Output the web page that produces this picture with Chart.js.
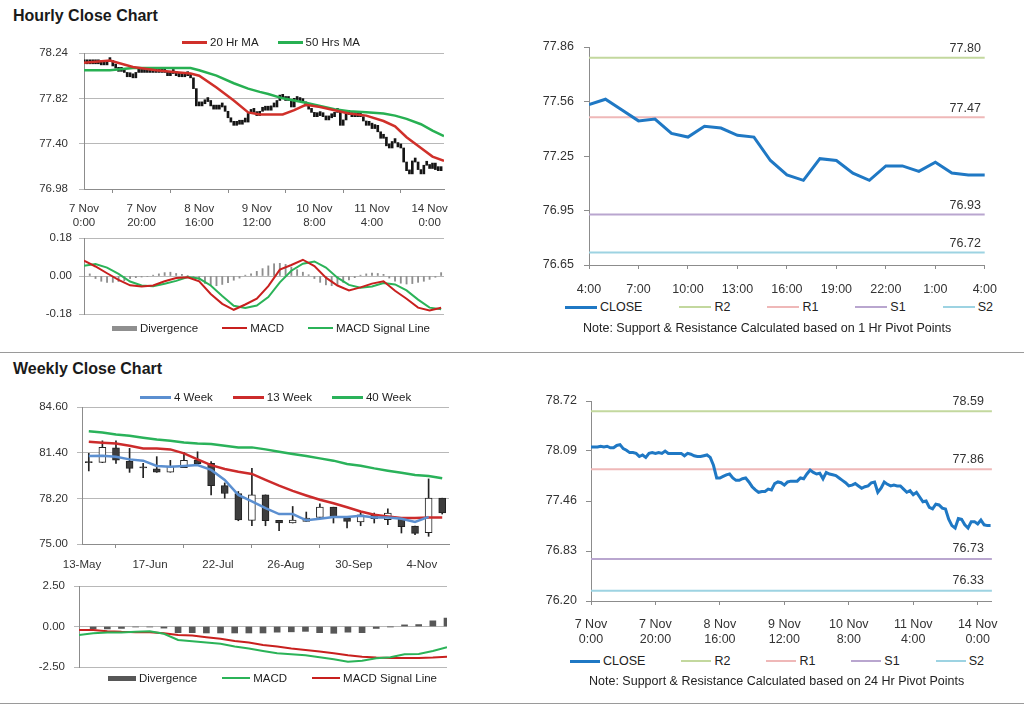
<!DOCTYPE html>
<html>
<head>
<meta charset="utf-8">
<script src="https://cdn.jsdelivr.net/npm/chart.js@4.4.1/dist/chart.umd.min.js"></script>
<style>
  body { margin: 0; width: 1024px; height: 706px; background: #fff; position: relative; overflow: hidden;
         font-family: "Liberation Sans", Arial, sans-serif; color: #222; }
  .box { position: absolute; }
  .title { position: absolute; left: 13px; font-weight: bold; font-size: 16px; line-height: 18px; color: #1a1a1a; }
  .rule { position: absolute; left: 0; width: 1024px; height: 1px; background: #9a9a9a; }
  .legend { position: absolute; display: flex; align-items: center; white-space: nowrap; color: #222; }
  .legend .item { display: flex; align-items: center; }
  .legend .sw { display: inline-block; margin-right: 3px; }
  .note { position: absolute; font-size: 12.5px; line-height: 16px; white-space: nowrap; color: #222; }
</style>
</head>
<body>
<div class="title" style="top:7px">Hourly Close Chart</div>
<div class="rule" style="top:352px"></div>
<div class="title" style="top:360px">Weekly Close Chart</div>
<div class="rule" style="top:703px"></div>

<script>
const FONT = '"Liberation Sans", Arial, sans-serif';

// ---- hourly data (7 Nov 0:00 -> 14 Nov 4:00, one value per hour) ----
const hourlyClose = [
  78.14, 78.14, 78.14, 78.15, 78.14, 78.15, 78.13, 78.13, 78.16, 78.17,
  78.12, 78.10, 78.07, 78.07, 78.06, 78.02, 78.04, 78.01, 78.06, 78.07,
  78.06, 78.07, 78.06, 78.09, 78.06, 78.06, 78.06, 78.06, 78.06, 78.03,
  78.06, 78.05, 78.03, 78.02, 78.02, 78.03, 78.04, 78.01, 77.91, 77.75,
  77.75, 77.77, 77.79, 77.80, 77.75, 77.72, 77.72, 77.74, 77.75, 77.70,
  77.64, 77.60, 77.57, 77.58, 77.58, 77.61, 77.60, 77.68, 77.70, 77.69,
  77.66, 77.70, 77.71, 77.71, 77.71, 77.75, 77.74, 77.80, 77.85, 77.82,
  77.80, 77.81, 77.74, 77.82, 77.80, 77.79, 77.78, 77.75, 77.72, 77.69,
  77.65, 77.66, 77.68, 77.65, 77.62, 77.64, 77.65, 77.69, 77.70, 77.57,
  77.62, 77.70, 77.67, 77.65, 77.66, 77.65, 77.65, 77.61, 77.57, 77.59,
  77.54, 77.57, 77.51, 77.45, 77.46, 77.38, 77.36, 77.42, 77.41, 77.37,
  77.36, 77.23, 77.15, 77.12, 77.24, 77.23, 77.16, 77.12, 77.20, 77.20,
  77.17, 77.22, 77.16, 77.15, 77.15
];
const hourTickLabels = [['7 Nov', '0:00'], ['7 Nov', '20:00'], ['8 Nov', '16:00'], ['9 Nov', '12:00'],
                        ['10 Nov', '8:00'], ['11 Nov', '4:00'], ['14 Nov', '0:00']];
const hourTickStep = 20;

const maHours = [0, 9, 17, 25, 33, 37, 40, 46, 52, 57, 61, 64, 69, 73, 77, 82, 87, 92, 98, 104, 108, 112, 117, 121, 125];
const ma20 = [78.15, 78.17, 78.11, 78.08, 78.06, 78.05, 78.03, 77.92, 77.80, 77.69, 77.67, 77.67, 77.67,
              77.71, 77.76, 77.74, 77.71, 77.68, 77.66, 77.61, 77.56, 77.46, 77.36, 77.28, 77.24];
const ma50 = [78.08, 78.08, 78.10, 78.10, 78.10, 78.10, 78.08, 78.03, 77.96, 77.91, 77.88, 77.86, 77.82,
              77.80, 77.78, 77.75, 77.72, 77.70, 77.69, 77.68, 77.66, 77.63, 77.58, 77.52, 77.47];

// hourly MACD, one value every 4 hours
const macdStep = 4;
const hourMacd = [0.073, 0.045, 0.013, -0.018, -0.044, -0.050, -0.045, -0.025, -0.010, -0.006, -0.025,
                  -0.085, -0.132, -0.160, -0.135, -0.107, -0.048, 0.030, 0.052, 0.077, 0.047, -0.008,
                  -0.045, -0.068, -0.054, -0.036, -0.025, -0.070, -0.108, -0.150, -0.163, -0.150];
const hourSignal = [0.049, 0.057, 0.040, 0.010, -0.026, -0.045, -0.048, -0.037, -0.023, -0.005, -0.012,
                    -0.045, -0.095, -0.141, -0.152, -0.140, -0.100, -0.030, 0.025, 0.058, 0.069, 0.040,
                    -0.008, -0.042, -0.056, -0.050, -0.033, -0.040, -0.068, -0.112, -0.150, -0.158];
// divergence, one value every 2 hours
const divStep = 2;
const hourDiv = [0.012, 0.010, -0.012, -0.025, -0.030, -0.030, -0.026, -0.022, -0.012, -0.008, -0.005,
                 -0.002, 0.004, 0.010, 0.016, 0.018, 0.012, 0.008, 0.002, -0.004, -0.018, -0.035,
                 -0.044, -0.046, -0.040, -0.032, -0.020, -0.010, 0.004, 0.010, 0.022, 0.035, 0.048,
                 0.058, 0.060, 0.055, 0.042, 0.030, 0.018, 0.006, -0.012, -0.030, -0.042, -0.046,
                 -0.040, -0.030, -0.018, -0.008, 0.004, 0.010, 0.014, 0.012, 0.008, -0.010, -0.024,
                 -0.034, -0.038, -0.036, -0.030, -0.025, -0.016, -0.006, 0.016];

// last 24 hours, 1 Hr pivots
const dayHours = ['4:00', '5:00', '6:00', '7:00', '8:00', '9:00', '10:00', '11:00', '12:00', '13:00',
                  '14:00', '15:00', '16:00', '17:00', '18:00', '19:00', '20:00', '21:00', '22:00',
                  '23:00', '0:00', '1:00', '2:00', '3:00', '4:00'];
const pivotNames = ['R2', 'R1', 'S1', 'S2'];
const pivotColors = ['#c3d89e', '#efb8b8', '#b9a6cf', '#9dd3e2'];
const pivots1Hr = [77.80, 77.47, 76.93, 76.72];
const pivots24Hr = [78.59, 77.86, 76.73, 76.33];

// ---- weekly data ----
const weekDates = ['13-May', '20-May', '27-May', '3-Jun', '10-Jun', '17-Jun', '24-Jun', '1-Jul', '8-Jul',
                   '15-Jul', '22-Jul', '29-Jul', '5-Aug', '12-Aug', '19-Aug', '26-Aug', '2-Sep', '9-Sep',
                   '16-Sep', '23-Sep', '30-Sep', '7-Oct', '14-Oct', '21-Oct', '28-Oct', '4-Nov', '11-Nov'];
const weekOpen  = [80.75, 80.72, 81.74, 80.81, 80.38, 80.26, 80.03, 80.35, 80.88, 80.65, 79.09, 78.54, 76.66, 78.44,
                   76.66, 76.47, 76.59, 76.86, 77.58, 76.82, 76.54, 77.03, 76.70, 76.77, 76.26, 75.80, 78.21];
const weekClose = [80.70, 81.77, 80.88, 80.30, 80.33, 80.03, 80.44, 80.86, 80.63, 79.09, 78.54, 76.68, 78.44, 76.63,
                   76.47, 76.68, 76.82, 77.58, 76.93, 76.59, 77.05, 76.77, 77.17, 76.21, 75.75, 78.21, 77.17];
const weekHigh  = [81.35, 82.23, 82.23, 81.70, 80.65, 81.12, 80.86, 81.42, 81.46, 80.77, 79.28, 78.68, 80.30, 78.44,
                   76.66, 77.63, 77.24, 77.82, 77.58, 76.82, 77.24, 77.17, 77.47, 76.77, 76.26, 79.56, 78.21];
const weekLow   = [80.12, 80.70, 80.65, 80.02, 79.65, 80.02, 80.03, 80.35, 80.63, 78.44, 78.21, 76.63, 76.28, 76.28,
                   75.94, 76.47, 76.59, 76.86, 76.47, 76.12, 76.28, 76.47, 76.35, 75.77, 75.66, 75.54, 77.10];
const ma4w  = [81.16, 81.19, 81.12, 80.93, 80.84, 80.47, 80.42, 80.47, 80.53, 80.19, 79.49, 78.44, 77.98, 77.52,
               77.10, 77.10, 76.66, 76.77, 76.89, 76.89, 76.98, 76.86, 76.86, 76.77, 76.54, 76.90, null];
const ma13w = [82.16, 82.09, 82.04, 81.88, 81.70, 81.70, 81.63, 81.35, 80.93, 80.53, 80.26, 80.07, 79.91, 79.49,
               79.09, 78.72, 78.40, 78.10, 77.86, 77.58, 77.28, 77.05, 76.93, 76.82, 76.82, 76.86, 76.86];
const ma40w = [82.90, 82.81, 82.67, 82.58, 82.44, 82.32, 82.23, 82.11, 82.04, 82.00, 81.88, 81.77, 81.77, 81.63,
               81.46, 81.30, 81.16, 81.00, 80.84, 80.61, 80.49, 80.30, 80.14, 80.00, 79.84, 79.77, 79.61];
const weekMacd   = [-0.52, -0.41, -0.37, -0.37, -0.33, -0.29, -0.45, -0.83, -0.91, -0.99, -1.07, -1.24, -1.36, -1.51,
                    -1.65, -1.71, -1.78, -1.90, -2.02, -2.17, -2.11, -1.96, -1.90, -1.71, -1.69, -1.51, -1.28];
const weekSignal = [-0.21, -0.21, -0.29, -0.33, -0.35, -0.35, -0.41, -0.52, -0.56, -0.66, -0.76, -0.89, -0.99, -1.14,
                    -1.24, -1.36, -1.45, -1.55, -1.65, -1.78, -1.86, -1.92, -1.94, -1.94, -1.94, -1.92, -1.86];
const weekDiv    = [null, -0.15, -0.15, -0.12, -0.03, -0.03, -0.10, -0.38, -0.38, -0.40, -0.40, -0.40, -0.40, -0.40,
                    -0.35, -0.33, -0.30, -0.38, -0.42, -0.35, -0.38, -0.12, -0.02, 0.10, 0.12, 0.35, 0.52];

// y tick values (ascending)
const hourlyTicks = [76.98, 77.40, 77.82, 78.24];
const hourMacdTicks = [-0.18, 0.00, 0.18];
const dayTicks = [76.65, 76.95, 77.25, 77.56, 77.86];
const closeTicks = [76.20, 76.83, 77.46, 78.09, 78.72];
const weeklyTicks = [75.00, 78.20, 81.40, 84.60];
const weekMacdTicks = [-2.50, 0.00, 2.50];

// ---- helpers ----
const GRID = '#b8b8b8';
const AXIS = '#8c8c8c';
const PAD = 20;   // outer padding above (and below, when the x axis is hidden) each plot

function valueAxis(ticks, width, withGrid, size, pad) {
  return {
    min: ticks[0], max: ticks[ticks.length - 1],
    afterBuildTicks: a => { a.ticks = ticks.map(v => ({ value: v })); },
    afterFit: a => { a.width = width; },
    ticks: { callback: v => v.toFixed(2), padding: pad, color: '#333', font: { family: FONT, size } },
    grid: withGrid ? { color: GRID, tickLength: 5 } : { drawOnChartArea: false, color: AXIS, tickLength: 5 },
    border: { color: AXIS }
  };
}

function timeAxis(min, max, positions, labels, height, size, pad) {
  return {
    type: 'linear', min, max, offset: false,
    afterBuildTicks: a => { a.ticks = positions.map(v => ({ value: v })); },
    afterFit: a => { a.height = height; },
    ticks: { callback: (v, i) => labels[i], autoSkip: false, maxRotation: 0, padding: pad,
             color: '#333', font: { family: FONT, size } },
    grid: { drawOnChartArea: false, color: AXIS, tickLength: 4 },
    border: { color: AXIS }
  };
}

function hiddenAxis(min, max) {
  return { type: 'linear', min, max, offset: false, display: false };
}

// box: plot-area rectangle plus y-axis width, right padding and x-axis height
function makeChart(box, config) {
  const w = box.yw + box.pw + box.padRight;
  const h = PAD + box.ph + (box.xh || PAD);
  const wrap = document.createElement('div');
  wrap.className = 'box';
  wrap.style.left = (box.px - box.yw) + 'px';
  wrap.style.top = (box.py - PAD) + 'px';
  const canvas = document.createElement('canvas');
  canvas.width = w;
  canvas.height = h;
  wrap.appendChild(canvas);
  document.body.appendChild(wrap);
  config.options = Object.assign({
    responsive: false, animation: false, devicePixelRatio: 1,
    layout: { padding: { top: PAD, right: box.padRight, left: 0, bottom: box.xh ? 0 : PAD } }
  }, config.options);
  config.options.plugins = Object.assign({ legend: { display: false }, tooltip: { enabled: false } },
                                         config.options.plugins || {});
  return new Chart(canvas, config);
}

function htmlLegend(chart, o) {
  const el = document.createElement('div');
  el.className = 'legend';
  el.style.cssText = `left:${o.left}px;top:${o.cy - 8}px;gap:${o.gap}px;font-size:${o.size}px;line-height:16px`;
  chart.data.datasets.filter(d => !d.noLegend).forEach(d => {
    const item = document.createElement('span');
    item.className = 'item';
    const sw = document.createElement('span');
    sw.className = 'sw';
    const isBar = (d.type || chart.config.type) === 'bar';
    sw.style.width = o.sw + 'px';
    sw.style.height = (isBar ? 5 : Math.max(2, Math.round(d.borderWidth))) + 'px';
    sw.style.background = isBar ? d.backgroundColor : d.borderColor;
    item.appendChild(sw);
    item.appendChild(document.createTextNode(d.label));
    el.appendChild(item);
  });
  document.body.appendChild(el);
}

function note(text, left, cy) {
  const el = document.createElement('div');
  el.className = 'note';
  el.style.left = left + 'px';
  el.style.top = (cy - 8) + 'px';
  el.textContent = text;
  document.body.appendChild(el);
}

// pivot values written above each level line, at the right end
const pivotLabels = {
  id: 'pivotLabels',
  afterDatasetsDraw(chart, args, opts) {
    if (!opts.values) return;
    const { ctx, chartArea, scales: { y } } = chart;
    ctx.save();
    ctx.font = `12.5px ${FONT}`;
    ctx.fillStyle = '#333';
    ctx.textAlign = 'right';
    ctx.textBaseline = 'middle';
    opts.values.forEach(v => ctx.fillText(v.toFixed(2), chartArea.right - opts.inset, y.getPixelForValue(v) - opts.lift));
    ctx.restore();
  }
};

function lineSet(label, color, width, data, order) {
  return { type: 'line', label, data, borderColor: color, backgroundColor: color, borderWidth: width,
           pointRadius: 0, tension: 0, order: order || 1, spanGaps: false };
}

function pivotSets(values, lastX) {
  return values.map((v, i) => lineSet(pivotNames[i], pivotColors[i], 2, [{ x: 0, y: v }, { x: lastX, y: v }], 2));
}

// ---- 1. hourly candles with moving averages ----
const hourTickPos = hourTickLabels.map((_, i) => i * hourTickStep);
const c1 = makeChart({ px: 84, py: 53, pw: 360, ph: 136, yw: 60, padRight: 16, xh: 41 }, {
  type: 'bar',
  data: {
    datasets: [
      lineSet('20 Hr MA', '#d0302a', 2.5, maHours.map((h, i) => ({ x: h, y: ma20[i] }))),
      lineSet('50 Hrs MA', '#27b052', 2.5, maHours.map((h, i) => ({ x: h, y: ma50[i] }))),
      { label: 'Hourly', noLegend: true, grouped: false, order: 3, backgroundColor: '#151515',
        barThickness: 2, minBarLength: 4,
        data: hourlyClose.map((c, i) => ({ x: i, y: [i ? hourlyClose[i - 1] : c, c] })) }
    ]
  },
  options: {
    scales: {
      x: timeAxis(0, 125, hourTickPos, hourTickLabels, 41, 11.5, 9),
      y: valueAxis(hourlyTicks, 60, true, 11.5, 11)
    }
  }
});
htmlLegend(c1, { left: 182, cy: 42, gap: 19, sw: 25, size: 11.5 });

// ---- 2. hourly MACD ----
const c2 = makeChart({ px: 84, py: 238, pw: 360, ph: 76, yw: 60, padRight: 16 }, {
  type: 'bar',
  data: {
    datasets: [
      { label: 'Divergence', grouped: false, order: 3, backgroundColor: '#8f8f8f', barThickness: 1.2,
        data: hourDiv.map((v, i) => ({ x: i * divStep, y: v })) },
      lineSet('MACD', '#c8201e', 2, hourMacd.map((v, i) => ({ x: i * macdStep, y: v }))),
      lineSet('MACD Signal Line', '#2bb358', 2, hourSignal.map((v, i) => ({ x: i * macdStep, y: v })))
    ]
  },
  options: {
    scales: { x: hiddenAxis(0, 125), y: valueAxis(hourMacdTicks, 60, true, 11.5, 7) }
  }
});
htmlLegend(c2, { left: 112, cy: 328, gap: 24, sw: 25, size: 11.5 });

// ---- 3. last 24 hours close with 1 Hr pivots ----
const lastDay = hourlyClose.slice(hourlyClose.length - dayHours.length);
const dayTickPos = dayHours.map((_, i) => i).filter(i => i % 3 === 0);
const c3 = makeChart({ px: 589, py: 47, pw: 407, ph: 218, yw: 70, padRight: 14, xh: 34 }, {
  type: 'line',
  data: {
    datasets: [
      lineSet('CLOSE', '#1f78c4', 3, lastDay.map((v, i) => ({ x: i, y: v }))),
      ...pivotSets(pivots1Hr, dayHours.length - 1)
    ]
  },
  options: {
    plugins: { pivotLabels: { values: pivots1Hr, inset: 4, lift: 9 } },
    scales: {
      x: timeAxis(0, dayHours.length - 1, dayTickPos, dayTickPos.map(i => dayHours[i]), 34, 12.5, 13),
      y: valueAxis(dayTicks, 70, false, 12.5, 10)
    }
  },
  plugins: [pivotLabels]
});
htmlLegend(c3, { left: 565, cy: 307, gap: 37, sw: 32, size: 12.5 });
note('Note: Support & Resistance Calculated based on 1 Hr Pivot Points', 583, 328);

// ---- 4. weekly candles with moving averages ----
const weekTickIdx = weekDates.map((_, i) => i).filter(i => i % 5 === 0);
const c4 = makeChart({ px: 82, py: 407, pw: 367, ph: 137, yw: 60, padRight: 12, xh: 32 }, {
  type: 'bar',
  data: {
    datasets: [
      lineSet('4 Week', '#5b8fd0', 2.5, ma4w.map((v, i) => ({ x: i, y: v }))),
      lineSet('13 Week', '#cc2b2b', 2.5, ma13w.map((v, i) => ({ x: i, y: v }))),
      lineSet('40 Week', '#2ab25a', 2.5, ma40w.map((v, i) => ({ x: i, y: v }))),
      { label: 'Range', noLegend: true, grouped: false, order: 4, backgroundColor: '#222', barThickness: 1,
        data: weekHigh.map((h, i) => ({ x: i, y: [weekLow[i], h] })) },
      { label: 'Body', noLegend: true, grouped: false, order: 3, barThickness: 7, minBarLength: 1,
        borderColor: '#222', borderWidth: 1, borderSkipped: false,
        backgroundColor: weekOpen.map((o, i) => weekClose[i] >= o ? '#ffffff' : '#3d3d3d'),
        data: weekOpen.map((o, i) => ({ x: i, y: [o, weekClose[i]] })) }
    ]
  },
  options: {
    scales: {
      x: timeAxis(-0.5, weekDates.length - 0.5, weekTickIdx.map(i => i - 0.5), weekTickIdx.map(i => weekDates[i]), 32, 11.5, 10),
      y: valueAxis(weeklyTicks, 60, true, 11.5, 9)
    }
  }
});
htmlLegend(c4, { left: 140, cy: 397, gap: 20, sw: 31, size: 11.5 });

// ---- 5. weekly MACD ----
const c5 = makeChart({ px: 79, py: 586, pw: 368, ph: 81, yw: 60, padRight: 12 }, {
  type: 'bar',
  data: {
    datasets: [
      { label: 'Divergence', grouped: false, order: 3, backgroundColor: '#575757', barThickness: 6,
        data: weekDiv.map((v, i) => ({ x: i, y: v })) },
      lineSet('MACD', '#2bb358', 2, weekMacd.map((v, i) => ({ x: i, y: v }))),
      lineSet('MACD Signal Line', '#c8201e', 2, weekSignal.map((v, i) => ({ x: i, y: v })))
    ]
  },
  options: {
    scales: { x: hiddenAxis(0, weekMacd.length - 1), y: valueAxis(weekMacdTicks, 60, true, 11.5, 9) }
  }
});
htmlLegend(c5, { left: 108, cy: 678, gap: 25, sw: 28, size: 11.5 });

// ---- 6. hourly close with 24 Hr pivots ----
const c6 = makeChart({ px: 591, py: 401, pw: 405, ph: 200, yw: 70, padRight: 14, xh: 46 }, {
  type: 'line',
  data: {
    datasets: [
      lineSet('CLOSE', '#1f78c4', 3, hourlyClose.map((v, i) => ({ x: i, y: v }))),
      ...pivotSets(pivots24Hr, 124.4)
    ]
  },
  options: {
    plugins: { pivotLabels: { values: pivots24Hr, inset: 8, lift: 10 } },
    scales: {
      x: timeAxis(0, 124.4, hourTickPos, hourTickLabels, 46, 12.5, 12),
      y: valueAxis(closeTicks, 70, false, 12.5, 9)
    }
  },
  plugins: [pivotLabels]
});
htmlLegend(c6, { left: 570, cy: 661, gap: 36, sw: 30, size: 12.5 });
note('Note: Support & Resistance Calculated based on 24 Hr Pivot Points', 589, 681);
</script>
</body>
</html>
